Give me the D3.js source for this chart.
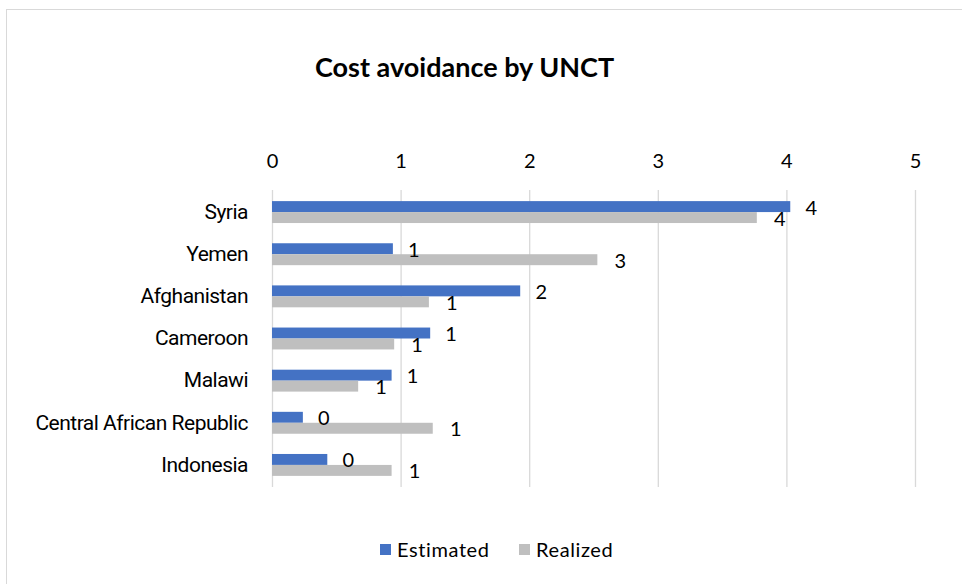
<!DOCTYPE html>
<html>
<head>
<meta charset="utf-8">
<script src="https://cdn.jsdelivr.net/npm/d3@7"></script>
<style>
  html, body { margin: 0; padding: 0; background: #fff; }
  svg { display: block; }
</style>
</head>
<body>
<svg id="chart" width="962" height="584"></svg>
<script>
// Countries, top to bottom
const categories = ["Syria", "Yemen", "Afghanistan", "Cameroon", "Malawi", "Central African Republic", "Indonesia"];
// Cost avoidance per UNCT
const estimated = [4.03, 0.94, 1.93, 1.23, 0.93, 0.24, 0.43];
const realized  = [3.77, 2.53, 1.22, 0.95, 0.67, 1.25, 0.93];
const seriesNames = ["Estimated", "Realized"];
const seriesColors = ["#4472C4", "#BFBFBF"];
const xTicks = [0, 1, 2, 3, 4, 5];
const title = "Cost avoidance by UNCT";

const rows = categories.map((c, i) => ({ cat: c, values: [estimated[i], realized[i]] }));

const svg = d3.select("#chart");
const latin = "Lato, 'Open Sans', sans-serif";

// chart frame
svg.append("rect")
  .attr("x", 6.5).attr("y", 9.5)
  .attr("width", 1000).attr("height", 1000)
  .attr("fill", "#fff").attr("stroke", "#d9d9d9").attr("stroke-width", 1);

const plot = { left: 272, right: 915, top: 191, bottom: 486 };

const x = d3.scaleLinear().domain([0, 5]).range([plot.left, plot.right]);
const y = d3.scaleBand().domain(categories)
  .range([plot.top, plot.bottom])
  .paddingInner(0.48).paddingOuter(0.24);
const ySub = d3.scaleBand().domain(d3.range(seriesNames.length))
  .range([0, y.bandwidth()]);

// title
svg.append("text")
  .attr("x", 315).attr("y", 77)
  .attr("font-family", latin)
  .attr("font-weight", "bold")
  .attr("font-size", 27)
  .attr("fill", "#000")
  .text(title);

// vertical gridlines + top tick labels
const xAxis = d3.axisTop(x).tickValues(xTicks).tickFormat(d3.format("d"))
  .tickSize(-(plot.bottom - plot.top + 2)).tickPadding(22);
const gx = svg.append("g")
  .attr("transform", `translate(0,${plot.top - 1})`)
  .call(xAxis);
gx.select(".domain").remove();
gx.selectAll(".tick line").attr("stroke", "#d9d9d9").attr("stroke-width", 1.3);
gx.selectAll(".tick text")
  .attr("font-family", latin).attr("font-size", 20).attr("fill", "#000");

// category labels
const gy = svg.append("g")
  .attr("transform", `translate(${plot.left - 24},0)`)
  .call(d3.axisLeft(y).tickSize(0).tickPadding(0));
gy.select(".domain").remove();
gy.selectAll(".tick text")
  .attr("font-family", "Roboto, 'DejaVu Sans Condensed', sans-serif")
  .attr("font-size", 21)
  .attr("letter-spacing", "-0.5px")
  .attr("fill", "#000");

// bars
const fmt = d3.format(".0f");
const groups = svg.append("g").selectAll("g.cat")
  .data(rows).join("g")
  .attr("class", "cat")
  .attr("transform", d => `translate(0,${y(d.cat)})`);

groups.selectAll("rect")
  .data(d => d.values.map((v, k) => ({ v, k })))
  .join("rect")
  .attr("x", x(0))
  .attr("y", d => ySub(d.k))
  .attr("width", d => x(d.v) - x(0))
  .attr("height", ySub.bandwidth())
  .attr("fill", d => seriesColors[d.k]);

// value labels
groups.selectAll("text.val")
  .data(d => d.values.map((v, k) => ({ v, k })))
  .join("text")
  .attr("class", "val")
  .attr("x", d => x(d.v) + (d.k === 0 ? 21 : 23))
  .attr("y", d => ySub(d.k) + ySub.bandwidth() / 2 + 1)
  .attr("dy", "0.35em")
  .attr("text-anchor", "middle")
  .attr("font-family", latin)
  .attr("font-size", 20)
  .attr("fill", "#000")
  .text(d => fmt(d.v));

// legend
const legend = svg.append("g").attr("transform", "translate(380,544)");
const items = [{ name: seriesNames[0], color: seriesColors[0], dx: 0 },
               { name: seriesNames[1], color: seriesColors[1], dx: 139 }];
const li = legend.selectAll("g").data(items).join("g")
  .attr("transform", d => `translate(${d.dx},0)`);
li.append("rect").attr("width", 11).attr("height", 11).attr("fill", d => d.color);
li.append("text")
  .attr("x", 17).attr("y", 6).attr("dy", "0.35em")
  .attr("font-family", latin).attr("font-size", 20)
  .attr("letter-spacing", "0.6px").attr("fill", "#000")
  .text(d => d.name);
</script>
</body>
</html>
